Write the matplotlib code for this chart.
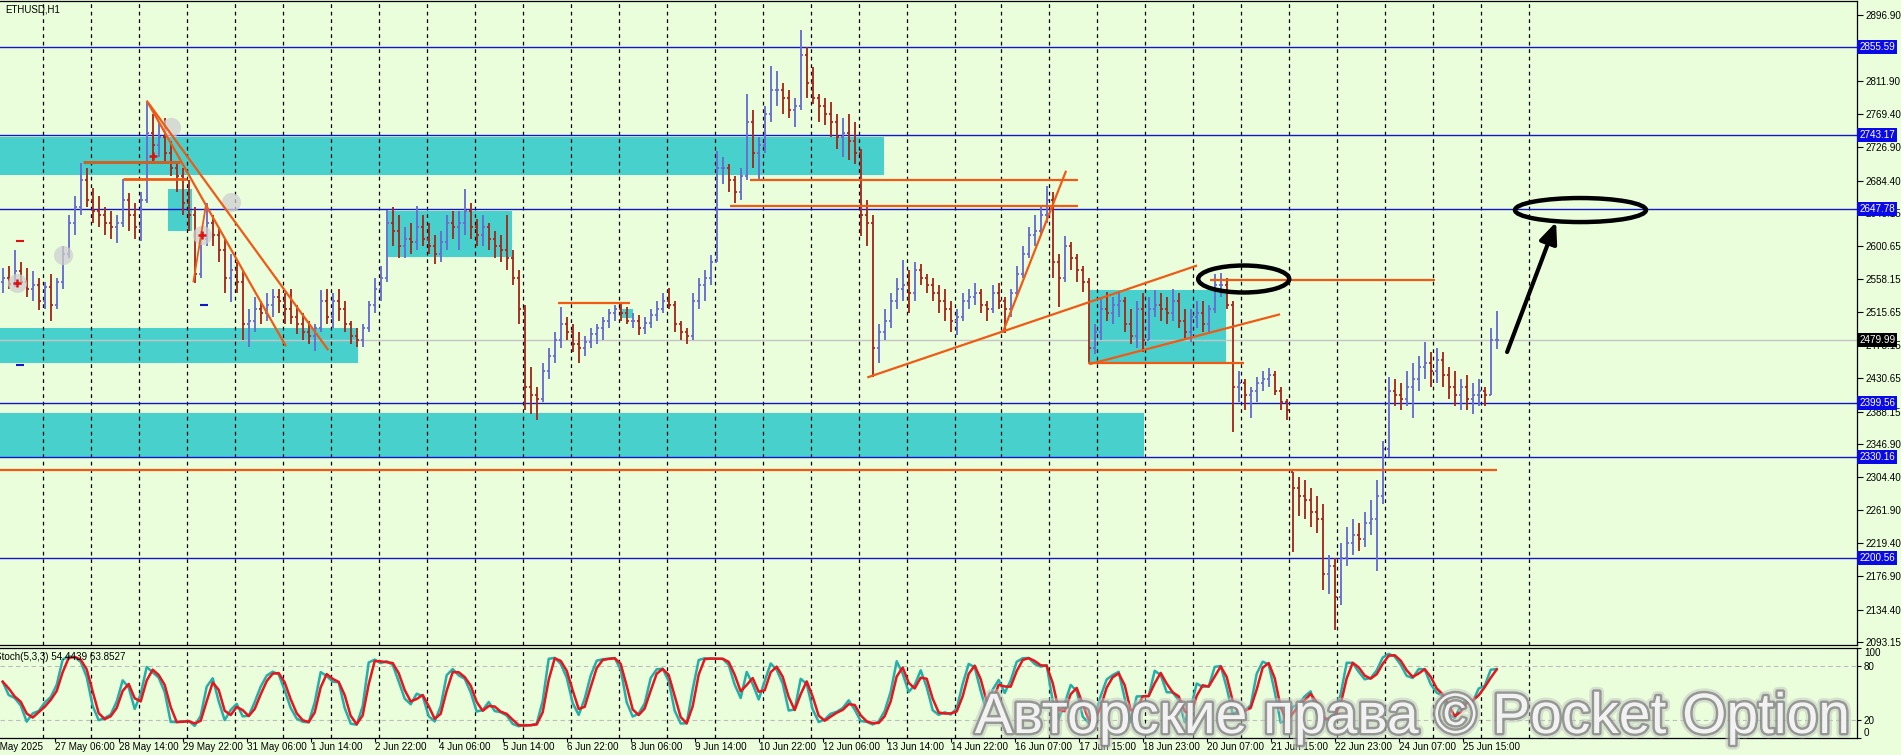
import matplotlib
matplotlib.use('Agg')
import matplotlib.pyplot as plt
import matplotlib.patheffects as pe
from matplotlib.collections import LineCollection
from matplotlib.patches import Rectangle, Ellipse
import matplotlib.transforms as mtransforms
import numpy as np
import pandas as pd

plt.rcParams['font.family'] = ['Liberation Sans', 'DejaVu Sans']

# ---------------- data (3-hour bars, ETHUSD) ----------------
hi = [2572,2575,2595,2580,2572,2568,2560,2555,2565,2560,
      2600,2640,2665,2707,2700,2675,2665,2650,2645,2640,
      2686,2668,2655,2670,2786,2770,2760,2765,2735,2710,
      2700,2685,2650,2620,2656,2640,2625,2610,2590,2580,
      2570,2520,2535,2530,2540,2545,2545,2540,2545,2525,
      2515,2505,2500,2544,2545,2540,2545,2530,2505,2495,
      2500,2530,2559,2575,2647,2650,2640,2625,2630,2652,
      2640,2630,2615,2620,2640,2645,2645,2674,2655,2635,
      2640,2630,2620,2615,2640,2595,2570,2525,2445,2420,
      2450,2470,2490,2522,2510,2500,2490,2485,2495,2500,
      2510,2520,2525,2529,2522,2515,2512,2510,2520,2530,
      2540,2547,2530,2505,2495,2540,2560,2570,2589,2722,
      2715,2705,2690,2700,2795,2775,2740,2780,2831,2825,
      2810,2800,2790,2877,2855,2830,2795,2790,2785,2770,
      2765,2770,2760,2725,2660,2640,2500,2520,2540,2560,
      2583,2570,2580,2577,2565,2560,2550,2545,2530,2520,
      2540,2545,2553,2545,2530,2550,2553,2535,2545,2575,
      2600,2625,2640,2650,2677,2670,2590,2613,2605,2590,
      2575,2560,2500,2535,2541,2535,2540,2535,2520,2530,
      2540,2535,2544,2540,2535,2545,2540,2520,2520,2530,
      2530,2525,2565,2566,2560,2530,2440,2430,2420,2432,
      2440,2444,2440,2420,2405,2311,2305,2300,2290,2280,
      2270,2205,2200,2220,2240,2250,2245,2260,2275,2300,
      2350,2432,2430,2425,2440,2450,2460,2477,2465,2470,
      2465,2445,2440,2430,2435,2425,2430,2420,2495,2517]
lo = [2540,2545,2548,2550,2535,2530,2519,2520,2504,2520,
      2545,2585,2615,2640,2650,2630,2625,2615,2610,2604,
      2625,2620,2610,2607,2655,2710,2715,2705,2690,2670,
      2640,2620,2553,2560,2600,2600,2580,2540,2529,2540,
      2480,2471,2490,2500,2505,2510,2515,2500,2500,2488,
      2480,2475,2466,2490,2500,2495,2505,2490,2475,2471,
      2471,2490,2515,2530,2555,2600,2585,2585,2590,2595,
      2600,2590,2577,2580,2595,2610,2595,2615,2610,2600,
      2600,2595,2585,2580,2570,2550,2500,2390,2385,2377,
      2400,2430,2450,2470,2480,2465,2450,2460,2470,2475,
      2480,2495,2505,2505,2500,2495,2486,2488,2495,2505,
      2515,2520,2490,2480,2475,2480,2520,2530,2550,2580,
      2680,2670,2656,2660,2685,2700,2686,2720,2760,2780,
      2770,2765,2753,2775,2790,2782,2760,2755,2740,2725,
      2715,2711,2705,2613,2600,2432,2450,2480,2495,2520,
      2530,2515,2530,2550,2540,2530,2515,2505,2490,2486,
      2505,2520,2525,2515,2505,2515,2520,2489,2510,2535,
      2560,2585,2600,2615,2630,2560,2522,2555,2570,2555,
      2541,2450,2462,2480,2505,2500,2510,2490,2475,2470,
      2465,2480,2510,2505,2500,2505,2495,2480,2478,2495,
      2490,2488,2515,2535,2520,2362,2400,2390,2380,2400,
      2415,2420,2410,2390,2377,2208,2255,2250,2240,2233,
      2160,2154,2108,2140,2190,2205,2210,2215,2230,2184,
      2270,2330,2395,2390,2395,2380,2415,2430,2420,2425,
      2420,2405,2395,2390,2390,2385,2395,2395,2410,2468]
cl = [2560,2552,2568,2555,2545,2550,2530,2548,2525,2555,
      2590,2630,2650,2685,2660,2645,2640,2630,2625,2630,
      2660,2640,2625,2660,2745,2730,2740,2720,2700,2690,
      2655,2640,2565,2610,2630,2615,2595,2560,2570,2555,
      2500,2505,2520,2515,2525,2535,2530,2520,2510,2500,
      2490,2485,2495,2530,2510,2530,2520,2500,2485,2480,
      2495,2525,2545,2560,2630,2620,2600,2610,2605,2625,
      2610,2600,2590,2605,2630,2625,2630,2645,2625,2615,
      2625,2610,2600,2595,2585,2560,2520,2420,2410,2405,
      2440,2460,2480,2500,2490,2475,2470,2478,2488,2495,
      2505,2515,2520,2515,2505,2505,2495,2502,2512,2520,
      2530,2525,2500,2490,2485,2530,2550,2560,2580,2700,
      2700,2685,2670,2690,2760,2720,2730,2770,2800,2800,
      2790,2775,2780,2845,2810,2790,2780,2770,2760,2740,
      2745,2735,2720,2640,2630,2470,2490,2505,2530,2545,
      2550,2540,2570,2560,2550,2540,2530,2520,2505,2510,
      2530,2535,2540,2525,2520,2540,2530,2520,2540,2565,
      2590,2615,2620,2640,2660,2580,2560,2600,2585,2570,
      2555,2470,2490,2520,2515,2525,2530,2500,2485,2520,
      2480,2520,2525,2520,2515,2530,2505,2490,2510,2515,
      2500,2520,2550,2550,2525,2420,2425,2410,2415,2425,
      2430,2435,2415,2400,2390,2290,2280,2275,2260,2250,
      2180,2190,2150,2200,2220,2230,2225,2245,2250,2280,
      2340,2415,2410,2405,2420,2430,2445,2450,2440,2455,
      2435,2420,2410,2420,2405,2410,2415,2410,2480,2480]
first_open = 2555
bar_hours = 3          # hours per bar, first bar starts 26 May 03:00
first_bar_hour = -20   # hours relative to 27 May 00:00

levels = [2855.59, 2743.17, 2647.78, 2399.56, 2330.16, 2200.56]
last_price = 2479.99
price_ticks = ['2896.90', '2811.90', '2769.40', '2726.90', '2684.40', '2643.15',
               '2600.65', '2558.15', '2515.65', '2473.15', '2430.65', '2388.15',
               '2346.90', '2304.40', '2261.90', '2219.40', '2176.90', '2134.40', '2093.15']
time_labels = ['27 May 06:00', '28 May 14:00', '29 May 22:00', '31 May 06:00', '1 Jun 14:00',
               '2 Jun 22:00', '4 Jun 06:00', '5 Jun 14:00', '6 Jun 22:00', '8 Jun 06:00',
               '9 Jun 14:00', '10 Jun 22:00', '12 Jun 06:00', '13 Jun 14:00', '14 Jun 22:00',
               '16 Jun 07:00', '17 Jun 15:00', '18 Jun 23:00', '20 Jun 07:00', '21 Jun 15:00',
               '22 Jun 23:00', '24 Jun 07:00', '25 Jun 15:00']
first_label = '26 May 2025'

# zones: (start hour, end hour, low price, high price)
zones = [(-22, 420.6, 2691, 2740), (62.8, 74.5, 2620, 2674), (172.5, 234.6, 2586, 2646),
         (-22, 157.5, 2450, 2495), (-22, 550.7, 2330.5, 2386), (523.7, 591.7, 2450, 2544),
         (289.7, 295.2, 2508, 2520)]
# orange objects: (h0, p0, h1, p1, colour, width)
ORG = '#f05a14'
segments = [(20.2, 2708, 68.7, 2708, '#c8642a', 2.2), (40.2, 2686, 72.2, 2686, ORG, 2.0),
            (52, 2787, 121.6, 2472, ORG, 1.6), (52.8, 2784, 142.8, 2467, ORG, 1.6),
            (75.3, 2554, 81.7, 2654, ORG, 1.3), (257.7, 2527, 293.7, 2527, ORG, 1.6),
            (353.7, 2685.7, 517.7, 2685.7, ORG, 1.6), (343.7, 2652.2, 517.7, 2652.2, ORG, 1.6),
            (412.3, 2432, 577.2, 2575.5, ORG, 1.6), (480, 2489.6, 511.7, 2697, ORG, 1.6),
            (522.7, 2450, 600.6, 2450, ORG, 1.6), (523.3, 2449, 618.7, 2513, ORG, 1.6),
            (583.7, 2557, 696, 2557, ORG, 1.6), (-22, 2313, 727, 2313, ORG, 1.6)]
ellipses = [(600.5, 2558.2, 45.5, 34.6), (768.9, 2646.6, 65.5, 30.8)]
arrow = ((732.2, 2464.6), (756.7, 2631.3))
plus_marks = [(-12.7, 2553), (55.3, 2716), (79.5, 2614)]
circle_marks = [(-12.7, 2553), (10.3, 2589), (64, 2753), (79.5, 2614), (94.2, 2657)]

# ---------------- figure geometry ----------------
W, H = 1901, 755
BG = '#eafedb'
fig = plt.figure(figsize=(W / 100, H / 100), dpi=100)
fig.patch.set_facecolor(BG)
PR = 1857
ax = fig.add_axes([0, 1 - 645 / H, PR / W, 644 / H])
ax2 = fig.add_axes([0, 1 - 738 / H, PR / W, 90 / H])
XL = (-21.35, 907.15)
for a in (ax, ax2):
    a.set_facecolor(BG)
    a.set_xlim(*XL)
    for s in a.spines.values():
        s.set_color('black')
        s.set_linewidth(0.9)
    a.spines['left'].set_visible(False)
ax.set_ylim(2089.0, 2914.6)
ax2.set_ylim(0, 100)

# day separators
seps = [24 * k - (1 if k >= 20 else 0) for k in range(0, 32)]
for a in (ax, ax2):
    for s in seps:
        a.axvline(s, color='black', lw=0.9, ls=(0, (3, 3)), zorder=2)

# zones
for h0, h1, p0, p1 in zones:
    ax.add_patch(Rectangle((h0, p0), h1 - h0, p1 - p0, fc='#48d1cc', ec='none', zorder=1))

# horizontal levels
for lv in levels:
    ax.axhline(lv, color='#1414c8', lw=1.0, zorder=2.5)
ax.axhline(last_price, color='#c4c4c4', lw=1.0, zorder=1.8)

# bars
hi_a, lo_a, cl_a = np.array(hi, float), np.array(lo, float), np.array(cl, float)
n = len(cl_a)
t = first_bar_hour + bar_hours * np.arange(n)
op = np.clip(np.r_[first_open, cl_a[:-1]], lo_a, hi_a)
segs, cols = [], []
for i in range(n):
    c = '#6b6bd2' if cl_a[i] >= op[i] else '#a8281e'
    segs += [[(t[i], lo_a[i]), (t[i], hi_a[i])],
             [(t[i] - 1, op[i]), (t[i], op[i])],
             [(t[i], cl_a[i]), (t[i] + 1, cl_a[i])]]
    cols += [c, c, c]
ax.add_collection(LineCollection(segs, colors=cols, linewidths=1.35, zorder=3))

# orange objects
for h0, p0, h1, p1, c, w in segments:
    ax.plot([h0, h1], [p0, p1], color=c, lw=w, zorder=4, solid_capstyle='butt')

# markers
for h, p in circle_marks:
    ax.scatter([h], [p], s=190, color='#cfcfcf', alpha=0.75, zorder=3.5, lw=0)
for h, p in plus_marks:
    ax.scatter([h], [p], marker='+', s=30, color='#e01010', lw=1.8, zorder=5)
ax.scatter([-11.4], [2607.4], marker='_', s=40, color='#e01010', lw=1.5, zorder=5)
ax.scatter([-11.4, 80.7], [2448.5, 2524.6], marker='_', s=40, color='#1414c8', lw=1.5, zorder=5)

# ellipses + arrow
for h, p, w, hh in ellipses:
    ax.add_patch(Ellipse((h, p), w, hh, fc='none', ec='black', lw=3.2, zorder=6))
ax.annotate('', xy=arrow[1], xytext=arrow[0],
            arrowprops=dict(arrowstyle='-|>,head_length=0.7,head_width=0.3', lw=3,
                            color='black', mutation_scale=18, shrinkA=0, shrinkB=0), zorder=6)

# price axis
FS = 7.1
ax.yaxis.tick_right()
ax.set_yticks([float(v) for v in price_ticks])
ax.set_yticklabels(price_ticks)
ax.tick_params(axis='y', direction='out', length=4, width=0.8, labelsize=FS, pad=2, colors='black')
ax.set_xticks([])
trans = mtransforms.blended_transform_factory(ax.transAxes, ax.transData)
for lv in levels:
    ax.text(1.0011, lv, f'{lv:.2f}', transform=trans, fontsize=FS, color='white', va='center',
            ha='left', clip_on=False, zorder=10,
            bbox=dict(boxstyle='square,pad=0.2', fc='#0a0ae6', ec='none'))
ax.text(1.0011, last_price, f'{last_price:.2f}', transform=trans, fontsize=FS, color='white',
        va='center', ha='left', clip_on=False, zorder=10,
        bbox=dict(boxstyle='square,pad=0.2', fc='black', ec='none'))
ax.text(0.0027, 1 - 8 / 644, 'ETHUSD,H1', transform=ax.transAxes, fontsize=7.0, va='center',
        ha='left', color='black')

# stochastic computed from the bars (periods scaled to 3-hour bars)
s_hi, s_lo, s_cl = pd.Series(hi_a), pd.Series(lo_a), pd.Series(cl_a)
hh5 = s_hi.rolling(3, min_periods=1).max()
ll5 = s_lo.rolling(3, min_periods=1).min()
num = (s_cl - ll5).rolling(2, min_periods=1).sum()
den = (hh5 - ll5).rolling(2, min_periods=1).sum()
K = 100 * num / den.replace(0, np.nan)
D = K.rolling(2, min_periods=1).mean()
ax2.plot(t, K, color='#22b0a8', lw=1.8, zorder=3)
ax2.plot(t, D, color='#e8141e', lw=1.8, zorder=4)
for lvl in (20, 80):
    ax2.axhline(lvl, color='#bdbdbd', lw=0.8, ls=(0, (4, 3)), zorder=1)
ax2.yaxis.tick_right()
ax2.set_yticks([0, 20, 80, 100])
ax2.set_yticklabels(['0', '20', '80', '100'])
ax2.tick_params(axis='y', direction='out', length=3, width=0.8, labelsize=FS, pad=2)
for lab in ax2.get_yticklabels():
    if lab.get_text() == '100':
        lab.set_va('top')
    elif lab.get_text() == '0':
        lab.set_va('bottom')
xtr = mtransforms.blended_transform_factory(ax2.transData, ax2.transAxes)
ax2.text(-23.9, 0.9, 'Stoch(5,3,3) 54.4439 63.8527', transform=xtr, fontsize=FS, va='center',
         ha='left', clip_on=False, zorder=8)

xt = [6 + 32 * k for k in range(len(time_labels))]
ax2.set_xticks(xt)
ax2.set_xticklabels([])
ax2.tick_params(axis='x', direction='out', length=3, width=0.8)
for pos, lab in zip(xt, time_labels):
    ax2.text(pos, -0.095, lab, transform=xtr, fontsize=FS, va='center', ha='left', clip_on=False)
ax2.text(-28.5, -0.095, first_label, transform=xtr, fontsize=FS, va='center', ha='left',
         clip_on=False)

# watermark
fig.text(1413 / W, 1 - 733 / H, 'Авторские права © Pocket Option', fontsize=41,
         ha='center', va='baseline', color='#f2f2f2', zorder=20,
         path_effects=[pe.Stroke(linewidth=7, foreground='#c4c4c4', alpha=0.5),
                       pe.Stroke(linewidth=3.5, foreground='#858585', alpha=0.8),
                       pe.Normal()])

fig.savefig('out.png', dpi=100, facecolor=BG)
